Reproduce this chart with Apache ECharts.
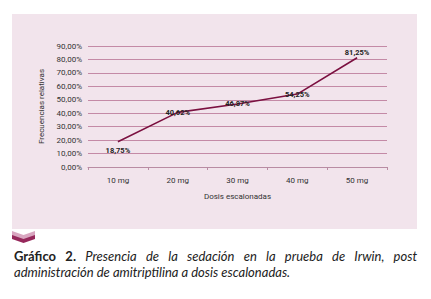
<!DOCTYPE html>
<html>
<head>
<meta charset="utf-8">
<script src="https://cdn.jsdelivr.net/npm/echarts@6/dist/echarts.min.js"></script>
<style>
  html, body { margin: 0; padding: 0; background: #fff; }
  #wrap { position: relative; width: 431px; height: 299px; }
  #chart { position: absolute; left: 0; top: 0; width: 431px; height: 299px; }
  #caption {
    position: absolute; left: 14px; top: 248px; width: 403px;
    font-family: Lato, "Open Sans", sans-serif; font-size: 13px; line-height: 16px;
    color: #222; text-align: justify; text-align-last: left; font-style: italic;
  }
  #caption b { font-style: normal; }
</style>
</head>
<body>
<div id="wrap">
  <div id="chart"></div>
  <div id="caption"><b>Gráfico 2.</b> Presencia de la sedación en la prueba de Irwin, post administración de amitriptilina a dosis escalonadas.</div>
</div>
<script>
// datos
const categories = ["10 mg", "20 mg", "30 mg", "40 mg", "50 mg"];
const values = [18.75, 40.62, 46.87, 54.25, 81.25];
const valueLabels = ["18,75%", "40,62%", "46,87%", "54,25%", "81,25%"];
const labelPos = ["bottom", "inside", "inside", "inside", "top"];

const chart = echarts.init(document.getElementById("chart"), null, { renderer: "svg" });

const labelFont = { fontFamily: "Liberation Sans Narrow, Roboto, sans-serif", fontSize: 8, color: "#333" };

const options = {
  animation: false,
  graphic: [
    {
      type: "rect",
      z: -10,
      shape: { x: 12, y: 14, width: 405, height: 215 },
      style: { fill: "#f2e4ec" },
    },
    {
      // chevron
      type: "polygon",
      shape: { points: [[12, 231], [23.5, 235], [35, 231], [35, 236], [23.5, 240], [12, 236]] },
      style: { fill: "#d9a6c0" },
    },
    {
      type: "polygon",
      shape: { points: [[12, 235], [23.5, 239], [35, 235], [35, 239], [23.5, 243], [12, 239]] },
      style: { fill: "#96285b" },
    },
  ],
  grid: {
    left: 88,
    right: 44,
    top: 46,
    bottom: 132,
  },
  xAxis: {
    type: "category",
    data: categories,
    boundaryGap: true,
    name: "Dosis escalonadas",
    nameLocation: "middle",
    nameGap: 25,
    nameTextStyle: { fontFamily: "Liberation Sans Narrow, Roboto, sans-serif", fontSize: 8, color: "#333" },
    axisLine: { lineStyle: { color: "#b98ca3", width: 1 } },
    axisTick: { show: true, length: 3, lineStyle: { color: "#b98ca3" } },
    axisLabel: Object.assign({ margin: 9 }, labelFont),
  },
  yAxis: {
    type: "value",
    min: 0,
    max: 90,
    interval: 10,
    name: "Frecuencias relativas",
    nameLocation: "middle",
    nameGap: 37,
    nameTextStyle: { fontFamily: "Liberation Sans Narrow, Roboto, sans-serif", fontSize: 8, color: "#333" },
    axisLine: { show: false },
    axisTick: { show: false },
    axisLabel: Object.assign({
      margin: 6,
      formatter: (v) => v.toFixed(2).replace(".", ",") + "%",
    }, labelFont),
    splitLine: { lineStyle: { color: "#c48aa6", width: 1 } },
  },
  series: [
    {
      type: "line",
      data: values.map((v, i) => ({
        value: v,
        label: { position: labelPos[i], distance: labelPos[i] === "top" ? 1 : 5 },
      })),
      symbol: "circle",
      symbolSize: 0.1,
      lineStyle: { color: "#7b1040", width: 1.6 },
      itemStyle: { color: "#7b1040" },
      label: {
        show: true,
        formatter: (p) => valueLabels[p.dataIndex],
        fontFamily: "Liberation Sans Narrow, Roboto, sans-serif",
        fontSize: 7.5,
        fontWeight: "bold",
        color: "#222",
      },
    },
  ],
};

chart.setOption(options);
</script>
</body>
</html>
